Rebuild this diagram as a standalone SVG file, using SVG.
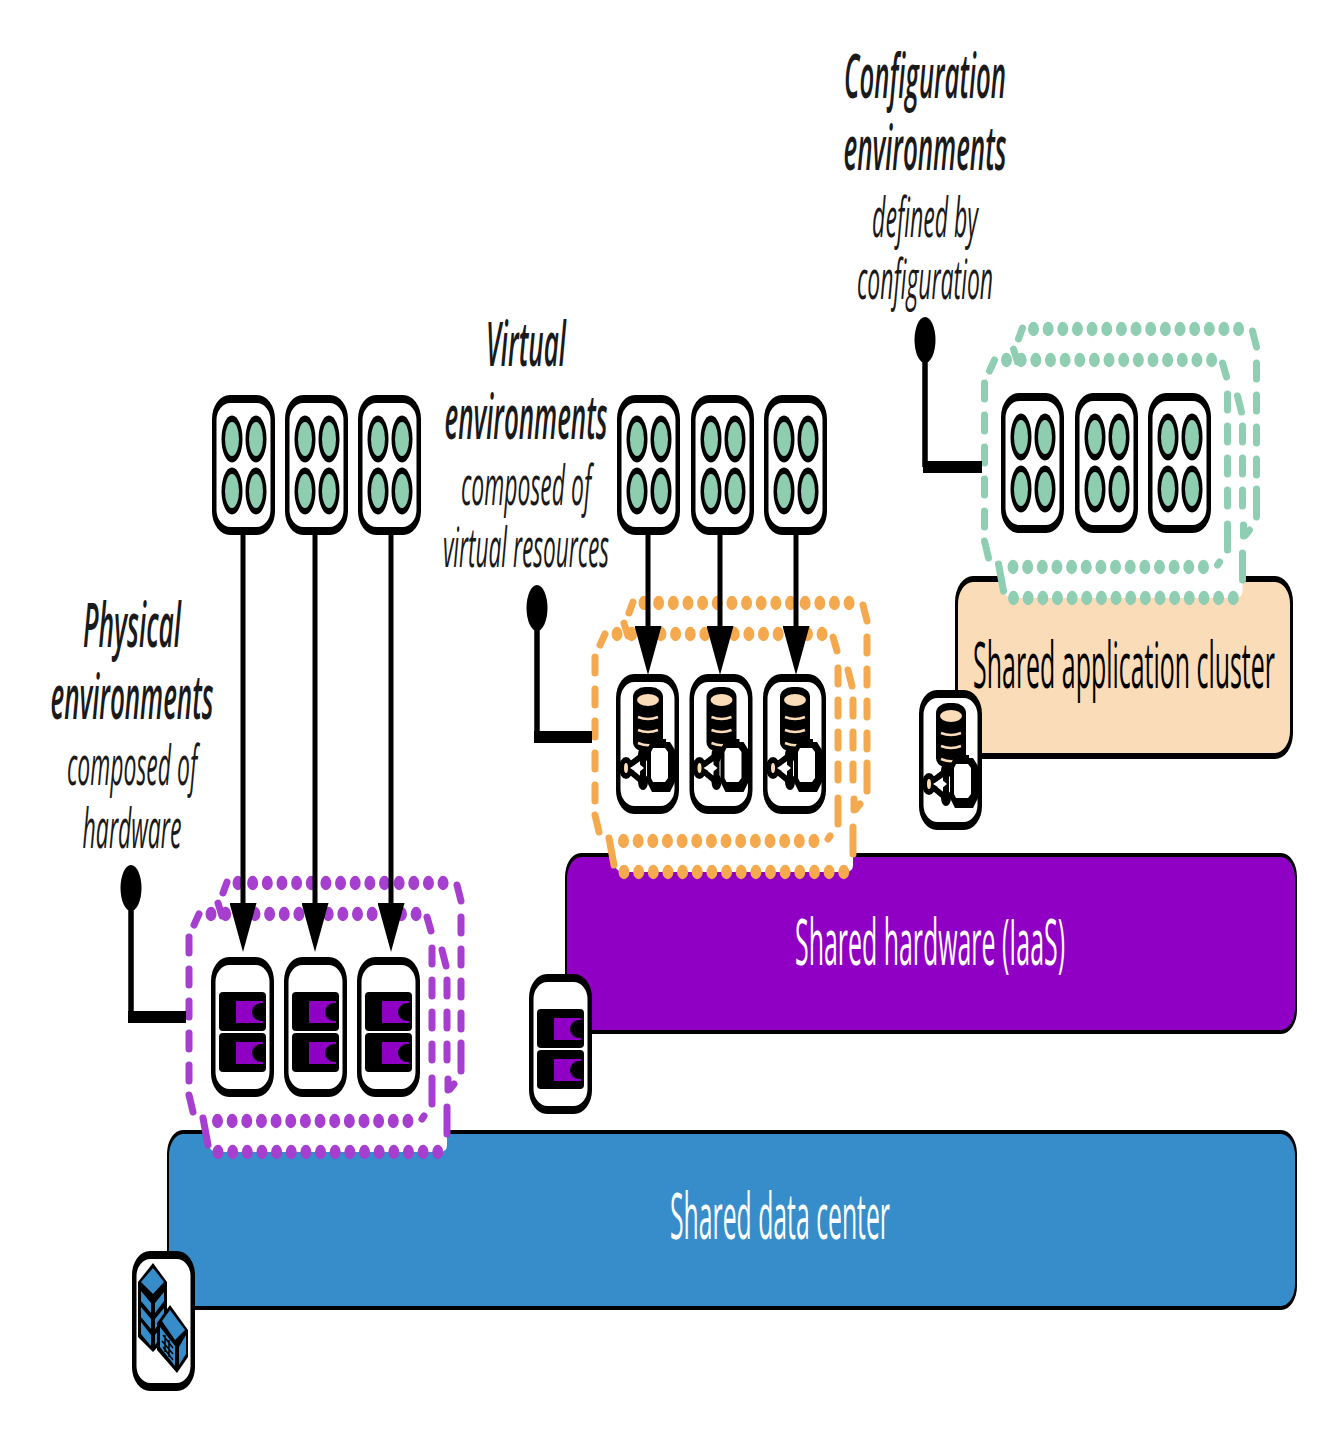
<svg xmlns="http://www.w3.org/2000/svg" width="1340" height="1429" viewBox="0 0 1340 1429">
<style>
text{font-family:"Open Sans","Noto Sans","Liberation Sans",sans-serif;text-anchor:middle}
.hd{font-style:italic;font-weight:600;font-size:62px;fill:#1a1a1a}
.sub{font-style:italic;font-weight:400;font-size:54px;fill:#1a1a1a}
.bar{font-size:64px;font-weight:400}
.h,.v,.c{fill:none;stroke:currentColor;stroke-linecap:round}
.h{stroke-width:11;stroke-dasharray:0 14.65}
.v{stroke-width:7;stroke-dasharray:16 16}
.c{stroke-width:7}
.pin{fill:none;stroke:#000}
.flow{stroke:#000;stroke-width:5;marker-end:url(#head)}
</style>
<defs>
<marker id="head" markerUnits="userSpaceOnUse" markerWidth="49" markerHeight="27" refX="0" refY="13.5" orient="auto"><path d="M0,0L49,13.5L0,27Z" fill="#000"/></marker>
<g id="card"><rect width="63" height="140" rx="18" ry="24" fill="#000"/><rect x="4.500" y="8" width="54" height="124" rx="14" ry="17" fill="#fff"/></g>
<g id="app"><use href="#card"/>
<g fill="#000"><ellipse cx="20" cy="44" rx="10.500" ry="23.500"/><ellipse cx="44" cy="44" rx="10.500" ry="23.500"/><ellipse cx="20" cy="96" rx="10.500" ry="23.500"/><ellipse cx="44" cy="96" rx="10.500" ry="23.500"/></g>
<g fill="#8ecdb0"><ellipse cx="20" cy="44" rx="7" ry="17"/><ellipse cx="44" cy="44" rx="7" ry="17"/><ellipse cx="20" cy="96" rx="7" ry="17"/><ellipse cx="44" cy="96" rx="7" ry="17"/></g></g>
<g id="srv"><rect x="8" y="35" width="47" height="39" rx="4" fill="#000"/><path d="M25,44H52V46H50A9,9 0 0 0 50,64H52V66H25Z" fill="#9000c4"/></g>
<g id="hw"><use href="#card"/><use href="#srv"/><use href="#srv" y="41"/></g>
<g id="db"><use href="#card"/>
<rect x="17" y="13" width="30" height="65" rx="12" ry="10" fill="#000"/>
<ellipse cx="32" cy="26" rx="11" ry="6" fill="#fbdcb8"/>
<path d="M22,43Q32,47 42,43M22,56Q32,60 42,56M22,69Q32,73 38,70" fill="none" stroke="#fbdcb8" stroke-width="2.500"/>
<path d="M36,65H50V68H54L59,76V108L54,118H36L31,108V76Z" fill="#000"/>
<path d="M37,74H49L52,78V104L49,108H37L35,104V78Z" fill="#fff"/>
<path d="M10,94L27,81M10,94H24M10,94L27,108M27,76V112" stroke="#000" stroke-width="6" fill="none"/>
<ellipse cx="10" cy="94" rx="7" ry="11" fill="#000"/><ellipse cx="10" cy="94" rx="2" ry="5" fill="#fbdcb8"/>
<ellipse cx="27" cy="81" rx="5" ry="8" fill="#000"/><ellipse cx="27" cy="108" rx="5" ry="8" fill="#000"/>
<path d="M14,94L22,89L28,94L22,99Z" fill="#fff"/></g>
<g id="frame">
<path d="M203,1110L209,1146Q211,1152 218,1152H440Q447,1152 447,1145V1110Z" fill="#fff"/>
<g transform="translate(0,883) scale(1,1.3)"><path class="h" d="M238,0H448"/></g>
<g transform="translate(0,914) scale(1,1.3)"><path class="h" d="M211,0H420"/></g>
<g transform="translate(0,1121) scale(1,1.3)"><path class="h" d="M217.500,0H410"/></g>
<g transform="translate(0,1152) scale(1,1.3)"><path class="h" d="M218,0H440"/></g>
<path class="v" d="M189,937V1085"/>
<path class="v" d="M432,980V1062"/>
<path class="v" d="M447,980V1062"/>
<path class="v" d="M461,917V1031"/>
<path class="c" d="M432,948V964M461,1043V1071M432,1078V1104M447,1107V1134"/>
<path class="c" d="M194,925L199,914M427,917L431,931M189,1095L193,1112M422,1119L424,1116M203,1118L208,1145M442,950L446,966M223,893L227,882M457,885L461,901M218,903L222,916"/>
<path class="c" d="M448,1079V1090M454,1084L450,1089"/>
</g>
</defs>
<rect width="1340" height="1429" fill="#fff"/>

<g id="layer-datacenter">
<rect x="167" y="1130" width="1130" height="180" rx="16" ry="24" fill="#000"/>
<rect x="169" y="1134" width="1126" height="172" rx="14" ry="22" fill="#368dca"/>
<text class="bar" transform="translate(780,1239) scale(.36,1)" fill="#fff" textLength="611" lengthAdjust="spacingAndGlyphs">Shared data center</text>
</g>
<g id="layer-hardware">
<rect x="565" y="853" width="732" height="181" rx="16" ry="24" fill="#000"/>
<rect x="567" y="857" width="728" height="173" rx="14" ry="22" fill="#9000c4"/>
<text class="bar" transform="translate(930,965) scale(.36,1)" fill="#fff" textLength="750" lengthAdjust="spacingAndGlyphs">Shared hardware (IaaS)</text>
</g>
<g id="layer-application">
<rect x="955" y="576" width="338" height="183" rx="18" ry="26" fill="#000"/>
<rect x="958" y="582" width="332" height="171" rx="15" ry="22" fill="#fbdcb8"/>
<text class="bar" transform="translate(1124,688) scale(.343,1)" fill="#000" textLength="880" lengthAdjust="spacingAndGlyphs">Shared application cluster</text>
</g>

<g id="icon-datacenter" transform="translate(132,1251)"><use href="#card"/>
<path d="M21,12L35,31V86L21,101L6,86V31Z" fill="#000"/>
<path d="M21,17L32,31L21,43L9,31Z" fill="#368dca"/>
<path d="M9,40L19,52V62L9,50ZM9,56L19,68V78L9,66ZM9,71L19,84V95L9,83ZM23,52L32,41V50L23,62ZM23,68L32,57V66L23,78ZM23,84L32,72V82L23,94Z" fill="#368dca"/>
<path d="M38,54L56,79V106L45,122L25,99V72Z" fill="#000"/>
<path d="M30,70L38,59L53,79L43,89Z" fill="#368dca"/>
<path d="M28,76L43,95V115L28,96ZM47,96L54,84V103L47,114Z" fill="#368dca"/>
<path d="M31,84L41,97M30,90L41,103M31,96L41,109M33,84V101M37,89V106" stroke="#000" stroke-width="1.500" fill="none"/>
</g>
<g id="icon-hardware" transform="translate(529,974)"><use href="#hw"/></g>
<g id="icon-database" transform="translate(919,690)"><use href="#db"/></g>

<g id="frame-physical" style="color:#a63fd0"><use href="#frame"/></g>
<g id="frame-virtual" style="color:#f5a94e"><use href="#frame" x="406" y="-280"/></g>
<g id="frame-config" style="color:#8fceb2"><use href="#frame" x="795.500" y="-554"/></g>

<g id="connectors">
<path class="pin" stroke-width="5.500" d="M131,900V1017"/><path class="pin" stroke-width="12" d="M128,1017H186"/>
<ellipse cx="131" cy="888" rx="10.500" ry="23"/>
<path class="pin" stroke-width="5.500" d="M537,620V737"/><path class="pin" stroke-width="12" d="M534,737H592"/>
<ellipse cx="537" cy="608" rx="10.500" ry="23"/>
<path class="pin" stroke-width="5.500" d="M925,352V467"/><path class="pin" stroke-width="12" d="M923,467H982"/>
<ellipse cx="925" cy="340" rx="10.500" ry="23"/>
</g>

<g id="physical-apps"><use href="#app" x="212" y="395"/><use href="#app" x="285" y="395"/><use href="#app" x="358" y="395"/></g>
<g id="virtual-apps"><use href="#app" x="617" y="395"/><use href="#app" x="691" y="395"/><use href="#app" x="764" y="395"/></g>
<g id="config-apps"><use href="#app" x="1001" y="393"/><use href="#app" x="1075" y="393"/><use href="#app" x="1148" y="393"/></g>
<g id="physical-hardware"><use href="#hw" x="211" y="957"/><use href="#hw" x="284" y="957"/><use href="#hw" x="357" y="957"/></g>
<g id="virtual-resources"><use href="#db" x="616" y="674"/><use href="#db" x="689.500" y="674"/><use href="#db" x="763" y="674"/></g>

<g id="flows">
<path class="flow" d="M243,534V903"/><path class="flow" d="M315,534V903"/><path class="flow" d="M391,534V903"/>
<path class="flow" d="M648,534V626"/><path class="flow" d="M720,534V626"/><path class="flow" d="M796,534V626"/>
</g>

<g id="label-config">
<text class="hd" transform="translate(925,98) scale(.372,1)" textLength="435" lengthAdjust="spacingAndGlyphs">Configuration</text>
<text class="hd" transform="translate(925,170) scale(.378,1)" textLength="431" lengthAdjust="spacingAndGlyphs">environments</text>
<text class="sub" transform="translate(925,237) scale(.378,1)" textLength="280" lengthAdjust="spacingAndGlyphs">defined by</text>
<text class="sub" transform="translate(925,299) scale(.366,1)" textLength="372" lengthAdjust="spacingAndGlyphs">configuration</text>
</g>
<g id="label-virtual">
<text class="hd" transform="translate(526,366) scale(.385,1)" textLength="208" lengthAdjust="spacingAndGlyphs">Virtual</text>
<text class="hd" transform="translate(526,439) scale(.378,1)" textLength="431" lengthAdjust="spacingAndGlyphs">environments</text>
<text class="sub" transform="translate(526,505) scale(.398,1)" textLength="327" lengthAdjust="spacingAndGlyphs">composed of</text>
<text class="sub" transform="translate(526,567) scale(.362,1)" textLength="459" lengthAdjust="spacingAndGlyphs">virtual resources</text>
</g>
<g id="label-physical">
<text class="hd" transform="translate(132,647) scale(.38,1)" textLength="258" lengthAdjust="spacingAndGlyphs">Physical</text>
<text class="hd" transform="translate(132,719) scale(.378,1)" textLength="431" lengthAdjust="spacingAndGlyphs">environments</text>
<text class="sub" transform="translate(132,785) scale(.398,1)" textLength="327" lengthAdjust="spacingAndGlyphs">composed of</text>
<text class="sub" transform="translate(132,848) scale(.402,1)" textLength="246" lengthAdjust="spacingAndGlyphs">hardware</text>
</g>
</svg>
